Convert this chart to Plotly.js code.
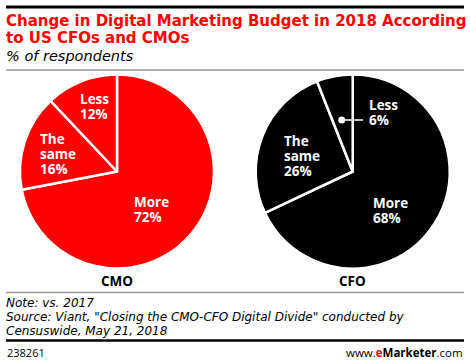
<!DOCTYPE html>
<html>
<head>
<meta charset="utf-8">
<script src="https://cdn.plot.ly/plotly-3.0.1.min.js"></script>
<style>
  html, body { margin: 0; padding: 0; background: #fff; }
  #chart { width: 470px; height: 362px; }
</style>
</head>
<body>
<div id="chart"></div>
<script>
// ---- data ----
const categories = ['More', 'The same', 'Less'];
const displayLabels = ['More', 'The<br>same', 'Less'];
const groups = ['CMO', 'CFO'];
const cmoValues = [72, 16, 12];
const cfoValues = [68, 26, 6];

const titleLines = ['Change in Digital Marketing Budget in 2018 According', 'to US CFOs and CMOs'];
const subtitleText = '% of respondents';
const noteLines = ['Note: vs. 2017',
  'Source: Viant, "Closing the CMO-CFO Digital Divide" conducted by',
  'Censuswide, May 21, 2018'];
const chartId = '238261';

// ---- layout helpers ----
const W = 470, H = 362;
const px = x => x / W;
const py = y => 1 - y / H;

const RED = '#ff0000';
const FONT = 'Open Sans, Lato, Arial, sans-serif';
const WIDE = 'DejaVu Sans, Verdana, sans-serif';

// pie geometry (pixel space)
const pies = [
  { values: cmoValues, color: RED, cx: 117, cy: 171.5, r: 97 },
  { values: cfoValues, color: '#000000', cx: 352.7, cy: 171.5, r: 97 }
];

const traces = pies.map((p, i) => ({
  type: 'pie',
  labels: categories,
  values: p.values,
  sort: false,
  direction: 'clockwise',
  rotation: 0,
  textinfo: 'none',
  hoverinfo: 'none',
  showlegend: false,
  marker: { colors: categories.map(() => p.color), line: { color: '#ffffff', width: 2.5 } },
  domain: { x: [px(p.cx - p.r), px(p.cx + p.r)], y: [py(p.cy + p.r), py(p.cy - p.r)] },
  name: groups[i]
}));

// label anchors: left edge / vertical centre of the label block (pixel space)
const labelAnchors = [
  [[131.7, 209.2], [38.3, 153.6], [78.3, 106.8]],
  [[371, 210.2], [281.7, 156], [366.7, 112.5]]
];

const annotations = [];
pies.forEach((p, gi) => {
  const vals = gi === 0 ? cmoValues : cfoValues;
  categories.forEach((c, ci) => {
    const [ax, ay] = labelAnchors[gi][ci];
    const txt = displayLabels[ci] + '<br>' + vals[ci] + '%';
    const styled = txt.split('<br>').map(s => '<span style="font-size:13.5px"><b>' + s + '</b></span>').join('<br>');
    annotations.push({
      text: styled, xref: 'paper', yref: 'paper',
      x: px(ax), y: py(ay), xanchor: 'left', yanchor: 'middle', align: 'left',
      showarrow: false, font: { family: FONT, size: 11.5, color: '#ffffff' }
    });
  });
  annotations.push({
    text: '<b>' + groups[gi] + '</b>', xref: 'paper', yref: 'paper',
    x: px(p.cx), y: py(281), xanchor: 'center', yanchor: 'middle',
    showarrow: false, font: { family: FONT, size: 13.5, color: '#000000' }
  });
});

// title lines
titleLines.forEach((t, i) => {
  annotations.push({
    text: '<b>' + t + '</b>', xref: 'paper', yref: 'paper',
    x: px(4), y: py(20.5 + i * 17.3), xanchor: 'left', yanchor: 'middle',
    showarrow: false, font: { family: WIDE, size: 15, color: RED }
  });
});
// subtitle
annotations.push({
  text: '<i>' + subtitleText + '</i>', xref: 'paper', yref: 'paper',
  x: px(4), y: py(56), xanchor: 'left', yanchor: 'middle',
  showarrow: false, font: { family: WIDE, size: 14.5, color: '#000000' }
});
// notes
noteLines.forEach((t, i) => {
  annotations.push({
    text: '<i>' + t + '</i>', xref: 'paper', yref: 'paper',
    x: px(4), y: py(303 + i * 14), xanchor: 'left', yanchor: 'middle',
    showarrow: false, font: { family: WIDE, size: 12, color: '#000000' }
  });
});
// footer
annotations.push({
  text: chartId, xref: 'paper', yref: 'paper',
  x: px(5), y: py(352), xanchor: 'left', yanchor: 'middle',
  showarrow: false, font: { family: FONT, size: 11, color: '#000000' }
});
annotations.push({
  text: 'www.<b><span style="color:' + RED + '">e</span>Marketer</b>.com', xref: 'paper', yref: 'paper',
  x: px(465), y: py(352), xanchor: 'right', yanchor: 'middle',
  showarrow: false, font: { family: FONT, size: 11.5, color: '#000000' }
});

const shapes = [
  { type: 'line', xref: 'paper', yref: 'paper', x0: px(6), x1: px(464), y0: py(7), y1: py(7), line: { color: '#000', width: 3 } },
  { type: 'line', xref: 'paper', yref: 'paper', x0: px(6), x1: px(464), y0: py(70), y1: py(70), line: { color: '#999', width: 1.5 } },
  { type: 'line', xref: 'paper', yref: 'paper', x0: px(6), x1: px(464), y0: py(292.5), y1: py(292.5), line: { color: '#999', width: 1.5 } },
  { type: 'line', xref: 'paper', yref: 'paper', x0: px(6), x1: px(464), y0: py(340.5), y1: py(340.5), line: { color: '#000', width: 2.5 } },
  // leader for CFO "Less"
  { type: 'line', xref: 'paper', yref: 'paper', x0: px(341.7), x1: px(363), y0: py(120), y1: py(120), line: { color: '#fff', width: 1.5 } },
  { type: 'circle', xref: 'paper', yref: 'paper', x0: px(338.2), x1: px(345.2), y0: py(123.5), y1: py(116.5), fillcolor: '#fff', line: { color: '#fff', width: 0 } }
];

const layout = {
  width: W, height: H,
  margin: { l: 0, r: 0, t: 0, b: 0 },
  paper_bgcolor: '#ffffff',
  plot_bgcolor: '#ffffff',
  annotations: annotations,
  shapes: shapes
};

Plotly.newPlot('chart', traces, layout, { displayModeBar: false, staticPlot: true });
</script>
</body>
</html>
